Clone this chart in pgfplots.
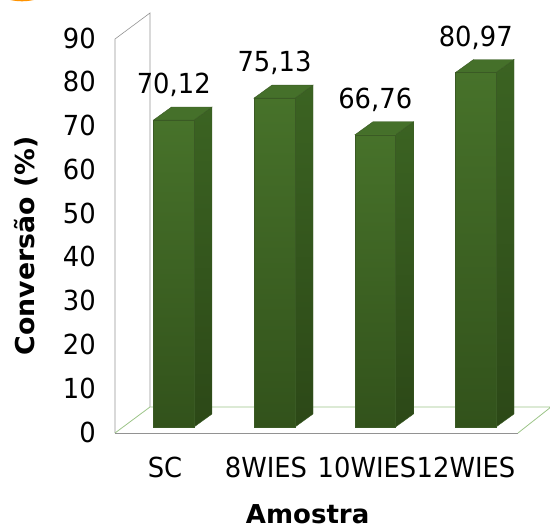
\documentclass[border=0pt]{standalone}
\usepackage{pgfplots}
\pgfplotsset{compat=1.18}
\usepackage{pgfplotstable}
\usepackage{fontspec}
\setmainfont{DejaVu Sans}

\definecolor{frontTop}{HTML}{47722A}
\definecolor{frontBot}{HTML}{32521B}
\definecolor{sideTop}{HTML}{3B6322}
\definecolor{sideBot}{HTML}{2C4817}
\definecolor{topFace}{HTML}{45702A}
\definecolor{edgeCol}{HTML}{3A5A24}
\definecolor{wallGrey}{HTML}{929292}
\definecolor{floorGreen}{HTML}{9CC488}

% text is drawn slightly tall
\newcommand{\alto}[1]{\scalebox{1}[1.07]{#1}}

\pgfplotstableread{
x      v      label
173.75 70.12  {\alto{70,12}}
274.5  75.13  {\alto{75,13}}
375.25 66.76  {\alto{66,76}}
475.75 80.97  {\alto{80,97}}
}\conversao

% one box: left edge, right edge, value; the depth is 18 horizontally and 2.97 vertically
\newcommand{\caixa}[3]{%
  \pgfmathsetmacro{\xb}{#2+18}%
  \pgfmathsetmacro{\xc}{#1+18}%
  \pgfmathsetmacro{\vb}{#3+2.97}%
  \addplot[draw=edgeCol, line width=0.4pt, top color=sideTop, bottom color=sideBot]
    coordinates {(#2,0) (\xb,2.97) (\xb,\vb) (#2,#3)} -- cycle;
  \addplot[draw=edgeCol, line width=0.4pt, fill=topFace]
    coordinates {(#1,#3) (#2,#3) (\xb,\vb) (\xc,\vb)} -- cycle;
  \addplot[draw=edgeCol, line width=0.4pt, top color=frontTop, bottom color=frontBot]
    coordinates {(#1,0) (#2,0) (#2,#3) (#1,#3)} -- cycle;
}

\begin{document}
\begin{tikzpicture}[x=1pt,y=1pt]
\path[use as bounding box] (0,0) rectangle (550,527);

% orange mark cut by the top edge
\begin{scope}
\clip (0,0) rectangle (550,527);
\fill[orange!85!yellow] (22,535) ellipse (23 and 9.3);
\end{scope}

% frame and scale
\begin{axis}[
  at={(115pt,94pt)}, anchor=south west,
  scale only axis, width=403pt, height=394pt,
  xmin=115, xmax=518, ymin=0, ymax=90,
  clip=false,
  axis line style={draw=none},
  major tick length=0pt,
  ytick={0,10,...,90},
  yticklabel={\alto{\pgfmathprintnumber{\tick}}},
  xtick={165,266,367,466},
  xticklabels={\alto{SC},\alto{8WIES},\alto{10WIES},\alto{12WIES}},
  tick label style={font=\fontsize{25.8pt}{28pt}\selectfont},
  /pgf/number format/assume math mode=true,
  yticklabel style={anchor=east, inner sep=0pt, xshift=-19pt, yshift=1pt},
  xticklabel style={anchor=center, inner sep=0pt, yshift=-34pt},
  xlabel={Amostra},
  ylabel={\scalebox{1.03}[1]{Conversão (\%)}},
  label style={font=\fontsize{26pt}{28pt}\selectfont\bfseries, inner sep=0pt},
  xlabel style={at={(rel axis cs:0.478,0)}, anchor=center, yshift=-81pt},
  ylabel style={at={(rel axis cs:0,0.4746)}, anchor=center, yshift=89pt},
]
\addplot[wallGrey, line width=0.6pt] coordinates {(115,0) (115,90) (150,95.94) (150,5.94)};
\addplot[floorGreen, line width=0.8pt] coordinates {(115,0) (150,5.94) (551,5.94) (518,0)};
\addplot[wallGrey, line width=0.8pt] coordinates {(115,0) (518,0)};
\end{axis}

% boxes and their values
\begin{axis}[
  at={(115pt,100pt)}, anchor=south west,
  scale only axis, width=403pt, height=394pt,
  xmin=115, xmax=518, ymin=0, ymax=90,
  clip=false, hide axis,
]
\caixa{153.5}{194}{70.12}
\caixa{254}{295}{75.13}
\caixa{355}{395.5}{66.76}
\caixa{455.5}{496}{80.97}
\addplot[draw=none, mark=none,
  nodes near coords, point meta=explicit symbolic,
  nodes near coords style={anchor=center, inner sep=0pt, yshift=35pt, text=black,
    font=\fontsize{25.8pt}{28pt}\selectfont}]
  table[x=x, y=v, meta=label] {\conversao};
\end{axis}
\end{tikzpicture}
\end{document}
